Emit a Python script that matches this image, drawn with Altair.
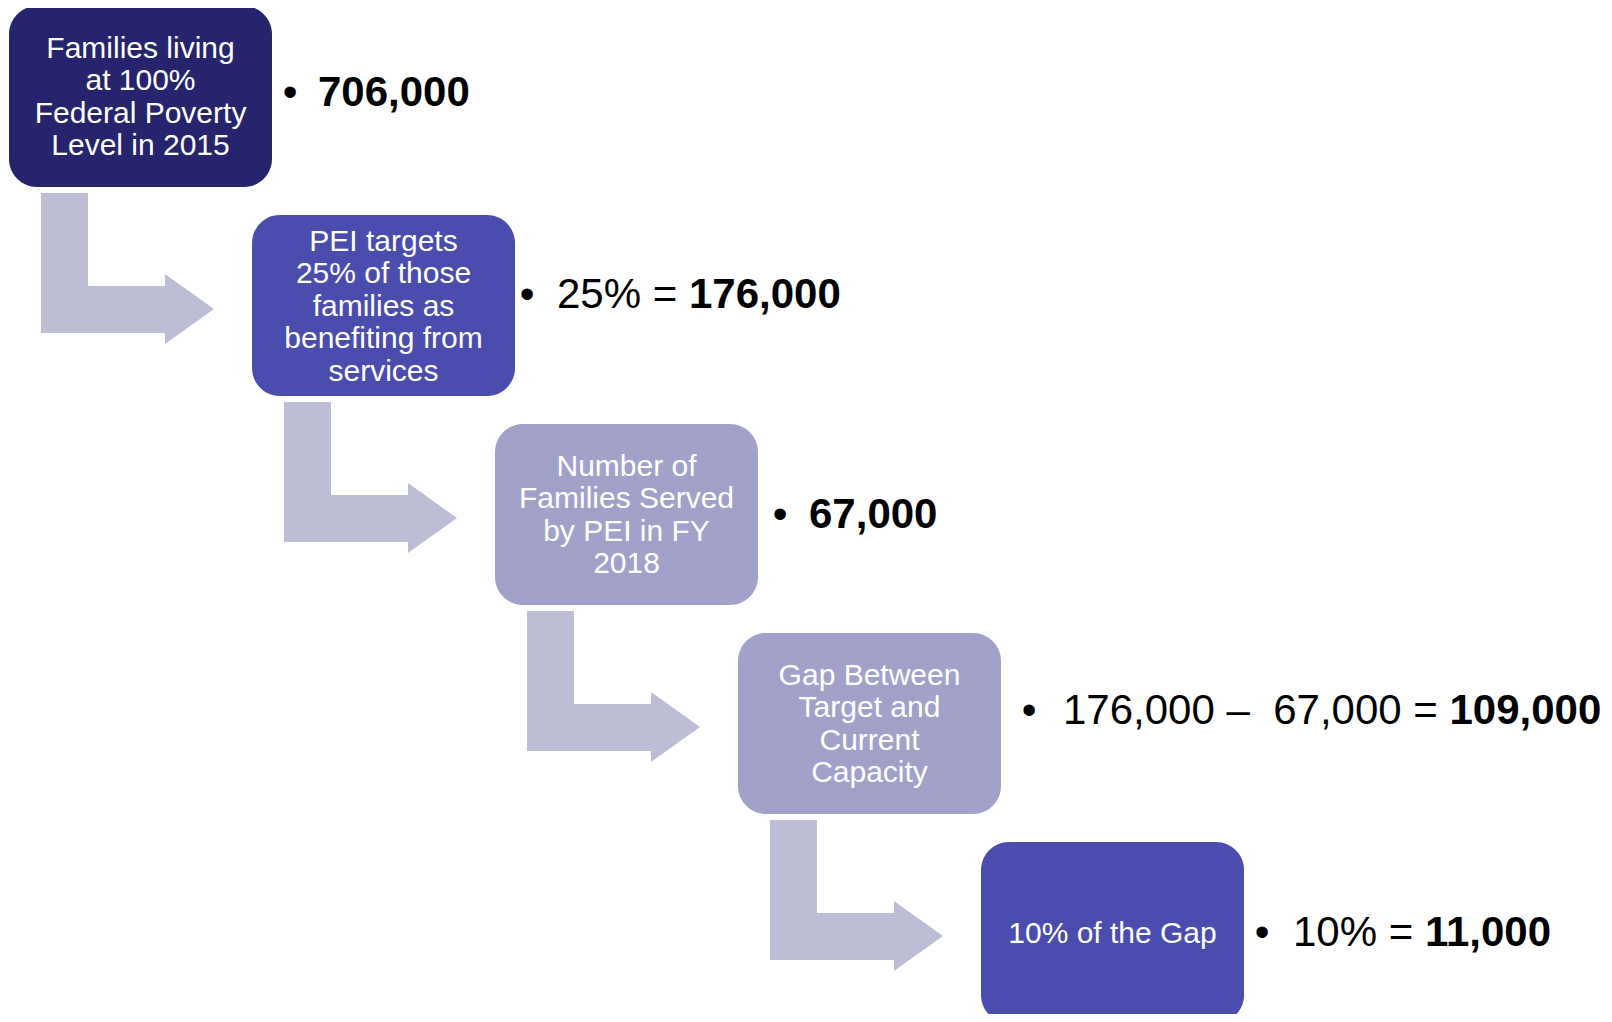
import altair as alt
import pandas as pd

# ---------------- data ----------------
box_lines = [
    ["Families living", "at 100%", "Federal Poverty", "Level in 2015"],
    ["PEI targets", "25% of those", "families as", "benefiting from", "services"],
    ["Number of", "Families Served", "by PEI in FY", "2018"],
    ["Gap Between", "Target and", "Current", "Capacity"],
    ["10% of the Gap"],
]
value_regular = ["", "25% = ", "", "176,000 \u2013\u00a0 67,000 = ", "10% = "]
value_bold = ["706,000", "176,000", "67,000", "109,000", "11,000"]
box_tone = ["navy", "indigo", "lavender", "lavender", "indigo"]

# ---------------- layout ----------------
X0, Y0 = 9, 6          # top-left of first box
DX, DY = 243, 209      # step between boxes
BW, BH = 263, 181      # box size
BOX_FONT, BOX_LH = 30, 32.5
VAL_FONT = 42
bullet_dx = [18, 12, 22, 28, 18]     # bullet offset from box right edge
text_dx = [46, 42, 51, 62, 49]       # value text offset from box right edge
text_dy = [-6, -12.5, -2, -14.5, -1.5]  # value text centre vs box centre

CHAR_W = {d: 0.556 for d in "0123456789"}
CHAR_W.update({",": 0.278, " ": 0.278, "\u00a0": 0.278, "%": 0.889,
               "=": 0.584, "\u2013": 0.556})


def text_width(s, size):
    return sum(CHAR_W.get(c, 0.556) for c in s) * size


box_rows, line_rows, stem_rows, head_rows = [], [], [], []
bullet_rows, reg_rows, bold_rows = [], [], []
for i, lines in enumerate(box_lines):
    bx, by = X0 + i * DX, Y0 + i * DY
    cx, cy = bx + BW / 2, by + BH / 2
    box_rows.append(dict(step=i, x=bx, x2=bx + BW, y=by, y2=by + BH, tone=box_tone[i]))
    n = len(lines)
    for j, t in enumerate(lines):
        line_rows.append(dict(x=cx, y=cy + 10 + (j - (n - 1) / 2) * BOX_LH, text=t))
    # value annotation
    base = cy + text_dy[i] + 0.358 * VAL_FONT
    bullet_rows.append(dict(x=bx + BW + bullet_dx[i], y=base, text="\u2022"))
    tx = bx + BW + text_dx[i]
    if value_regular[i]:
        reg_rows.append(dict(x=tx, y=base, text=value_regular[i]))
        tx += text_width(value_regular[i], VAL_FONT)
    bold_rows.append(dict(x=tx, y=base, text=value_bold[i]))
    # bent arrow to next box
    if i < len(box_lines) - 1:
        stem_rows.append(dict(x=bx + 32, x2=bx + 79, y=by + 187, y2=by + 327))
        stem_rows.append(dict(x=bx + 32, x2=bx + 157, y=by + 280, y2=by + 327))
        head_rows.append(dict(arrow=i, x=bx + 156, y=by + 268, y2=by + 338))
        head_rows.append(dict(arrow=i, x=bx + 205, y=by + 303, y2=by + 303))

boxes = pd.DataFrame(box_rows)
lines_df = pd.DataFrame(line_rows)
stems = pd.DataFrame(stem_rows)
heads = pd.DataFrame(head_rows)
bullets = pd.DataFrame(bullet_rows)
regs = pd.DataFrame(reg_rows)
bolds = pd.DataFrame(bold_rows)

W, H = 1596, 1006
xs = alt.Scale(domain=[8, 8 + W], nice=False, zero=False)
ys = alt.Scale(domain=[8, 8 + H], nice=False, zero=False, reverse=True)
ARROW = "#bdbed6"

stem_layer = alt.Chart(stems).mark_rect(color=ARROW, clip=True).encode(
    x=alt.X("x:Q", scale=xs, axis=None), x2="x2:Q",
    y=alt.Y("y:Q", scale=ys, axis=None), y2="y2:Q")

head_layer = alt.Chart(heads).mark_area(color=ARROW, clip=True, interpolate="linear").encode(
    x=alt.X("x:Q", scale=xs, axis=None),
    y=alt.Y("y:Q", scale=ys, axis=None), y2="y2:Q",
    detail="arrow:N")

box_layer = alt.Chart(boxes).mark_rect(cornerRadius=28, clip=True).encode(
    x=alt.X("x:Q", scale=xs, axis=None), x2="x2:Q",
    y=alt.Y("y:Q", scale=ys, axis=None), y2="y2:Q",
    color=alt.Color("tone:N", legend=None,
                    scale=alt.Scale(domain=["navy", "indigo", "lavender"],
                                    range=["#25246d", "#4b4dae", "#a2a1c9"])))

box_text = alt.Chart(lines_df).mark_text(
    font="Liberation Sans", fontSize=BOX_FONT, color="white",
    align="center", baseline="alphabetic").encode(
    x=alt.X("x:Q", scale=xs, axis=None),
    y=alt.Y("y:Q", scale=ys, axis=None), text="text:N")

bullet_text = alt.Chart(bullets).mark_text(
    font="Liberation Sans", fontSize=VAL_FONT, color="black",
    align="center", baseline="alphabetic").encode(
    x=alt.X("x:Q", scale=xs, axis=None),
    y=alt.Y("y:Q", scale=ys, axis=None), text="text:N")

reg_text = alt.Chart(regs).mark_text(
    font="Liberation Sans", fontSize=VAL_FONT, color="black",
    align="left", baseline="alphabetic").encode(
    x=alt.X("x:Q", scale=xs, axis=None),
    y=alt.Y("y:Q", scale=ys, axis=None), text="text:N")

bold_text = alt.Chart(bolds).mark_text(
    font="Liberation Sans", fontSize=VAL_FONT, fontWeight="bold", color="black",
    align="left", baseline="alphabetic").encode(
    x=alt.X("x:Q", scale=xs, axis=None),
    y=alt.Y("y:Q", scale=ys, axis=None), text="text:N")

chart = alt.layer(
    stem_layer, head_layer, box_layer, box_text, bullet_text, reg_text, bold_text
).properties(
    width=W, height=H, padding=0, autosize=alt.AutoSizeParams(type="none"),
    background="white"
).configure_view(stroke=None)

chart.save("out.html", embed_options={"renderer": "svg", "actions": False})
